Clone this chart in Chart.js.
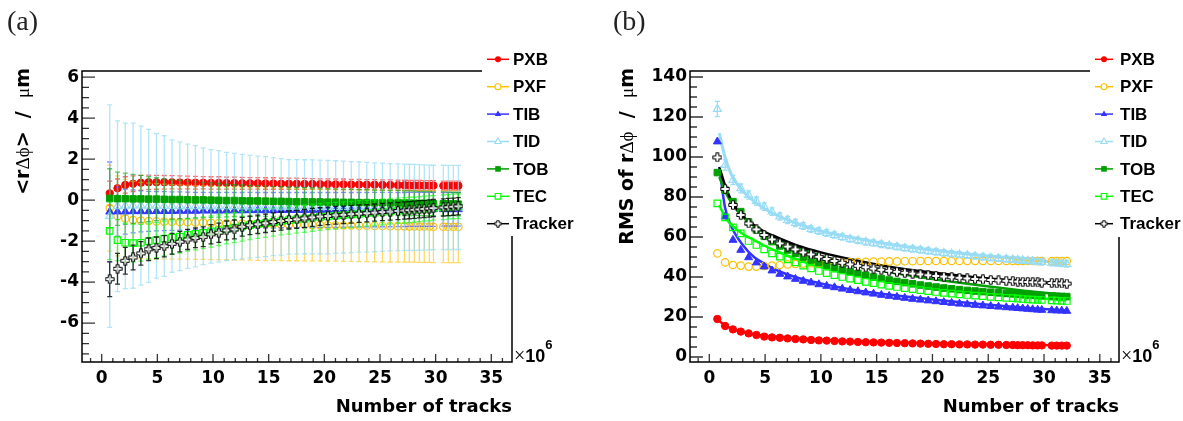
<!DOCTYPE html>
<html>
<head>
<meta charset="utf-8">
<script src="https://cdn.jsdelivr.net/npm/chart.js@4.4.0/dist/chart.umd.min.js"></script>
<style>
  html, body { margin: 0; padding: 0; background: #fff; }
  #wrap { position: relative; width: 1183px; height: 421px; overflow: hidden; }
  canvas { position: absolute; top: 0; }
  #cA { left: 0; }
  #cB { left: 590px; }
</style>
</head>
<body>
<div id="wrap">
  <canvas id="cA" width="590" height="421"></canvas>
  <canvas id="cB" width="593" height="421"></canvas>
</div>
<script>
// number of tracks (x10^6) for each alignment point
const nTracks = [0.72, 1.42, 2.12, 2.82, 3.52, 4.22, 4.92, 5.62, 6.32, 7.02,
  7.72, 8.42, 9.12, 9.82, 10.52, 11.22, 11.92, 12.62, 13.32, 14.02,
  14.72, 15.42, 16.12, 16.82, 17.52, 18.22, 18.92, 19.62, 20.32, 21.02,
  21.72, 22.42, 23.12, 23.82, 24.52, 25.22, 25.92, 26.62, 27.2, 27.64,
  28.09, 28.54, 28.98, 29.43, 29.8, 30.69, 31.14, 31.59, 32.04];

const names = ["PXB", "PXF", "TIB", "TID", "TOB", "TEC", "Tracker"];
const colors = ["#ff0000", "#ffc000", "#3333ff", "#99dcf5", "#00a000", "#00ff00", "#000000"];
const shapes = ["circle", "ocircle", "triangle", "otriangle", "rect", "orect", "ocross"];

// (a) mean of r*dphi, um
const meanPXB = [0.33, 0.58, 0.74, 0.80, 0.85, 0.87, 0.87, 0.87, 0.87, 0.86,
  0.86, 0.85, 0.85, 0.84, 0.84, 0.83, 0.83, 0.82, 0.82, 0.82,
  0.81, 0.81, 0.80, 0.80, 0.80, 0.79, 0.79, 0.78, 0.78, 0.77,
  0.77, 0.76, 0.76, 0.75, 0.75, 0.74, 0.74, 0.73, 0.73, 0.72,
  0.72, 0.72, 0.71, 0.71, 0.71, 0.70, 0.70, 0.70, 0.70];
const meanPXF = [-0.39, -0.77, -0.90, -0.97, -1.00, -1.02, -1.04, -1.05, -1.06, -1.07,
  -1.08, -1.09, -1.10, -1.11, -1.12, -1.13, -1.14, -1.15, -1.16, -1.17,
  -1.18, -1.18, -1.19, -1.20, -1.20, -1.21, -1.22, -1.22, -1.23, -1.23,
  -1.24, -1.24, -1.25, -1.25, -1.26, -1.26, -1.27, -1.27, -1.28, -1.28,
  -1.28, -1.29, -1.29, -1.29, -1.30, -1.30, -1.30, -1.30, -1.30];
const meanTIB = [-0.57, -0.56, -0.56, -0.55, -0.55, -0.55, -0.54, -0.54, -0.54, -0.53,
  -0.53, -0.53, -0.52, -0.52, -0.52, -0.51, -0.51, -0.51, -0.50, -0.50,
  -0.50, -0.50, -0.49, -0.49, -0.49, -0.49, -0.48, -0.48, -0.48, -0.48,
  -0.47, -0.47, -0.47, -0.47, -0.46, -0.46, -0.46, -0.46, -0.46, -0.45,
  -0.45, -0.45, -0.45, -0.45, -0.45, -0.45, -0.45, -0.45, -0.45];
const meanTID = [-0.78, -0.30, -0.28, -0.27, -0.27, -0.28, -0.28, -0.29, -0.29, -0.30,
  -0.30, -0.30, -0.30, -0.31, -0.31, -0.31, -0.31, -0.32, -0.32, -0.32,
  -0.32, -0.32, -0.33, -0.33, -0.33, -0.33, -0.33, -0.34, -0.34, -0.34,
  -0.34, -0.34, -0.34, -0.35, -0.35, -0.35, -0.35, -0.35, -0.35, -0.35,
  -0.36, -0.36, -0.36, -0.36, -0.36, -0.36, -0.36, -0.36, -0.36];
const meanTOB = [0.08, 0.07, 0.07, 0.06, 0.06, 0.05, 0.05, 0.04, 0.03, 0.03,
  0.02, 0.01, 0.01, 0.00, -0.01, -0.02, -0.02, -0.03, -0.04, -0.04,
  -0.05, -0.06, -0.06, -0.07, -0.08, -0.08, -0.09, -0.09, -0.10, -0.10,
  -0.11, -0.11, -0.12, -0.12, -0.13, -0.13, -0.14, -0.14, -0.15, -0.15,
  -0.16, -0.16, -0.17, -0.17, -0.18, -0.18, -0.19, -0.19, -0.20];
const meanTEC = [-1.50, -1.95, -2.08, -2.10, -2.08, -2.00, -1.95, -1.88, -1.83, -1.78,
  -1.70, -1.65, -1.60, -1.53, -1.47, -1.40, -1.34, -1.28, -1.22, -1.17,
  -1.12, -1.07, -1.02, -0.98, -0.94, -0.90, -0.86, -0.82, -0.79, -0.76,
  -0.73, -0.70, -0.67, -0.64, -0.61, -0.58, -0.55, -0.52, -0.50, -0.48,
  -0.46, -0.44, -0.42, -0.40, -0.38, -0.35, -0.33, -0.31, -0.30];
const meanTrk = [-3.86, -3.35, -2.96, -2.80, -2.60, -2.40, -2.33, -2.25, -2.13, -2.03,
  -1.92, -1.84, -1.79, -1.67, -1.59, -1.48, -1.43, -1.30, -1.23, -1.18,
  -1.13, -1.07, -1.02, -0.97, -0.94, -0.89, -0.84, -0.80, -0.77, -0.74,
  -0.72, -0.69, -0.66, -0.64, -0.61, -0.58, -0.56, -0.53, -0.51, -0.49,
  -0.47, -0.45, -0.43, -0.41, -0.39, -0.36, -0.34, -0.32, -0.30];

// (a) error bars
const errPXB = [0.60, 0.45, 0.40, 0.38, 0.36, 0.35, 0.34, 0.33, 0.32, 0.32,
  0.31, 0.31, 0.30, 0.30, 0.30, 0.29, 0.29, 0.29, 0.28, 0.28,
  0.28, 0.28, 0.27, 0.27, 0.27, 0.27, 0.26, 0.26, 0.26, 0.26,
  0.26, 0.25, 0.25, 0.25, 0.25, 0.25, 0.25, 0.24, 0.24, 0.24,
  0.24, 0.24, 0.24, 0.24, 0.24, 0.23, 0.23, 0.23, 0.23];
const errPXF = [2.10, 1.95, 1.90, 1.88, 1.86, 1.85, 1.84, 1.83, 1.82, 1.81,
  1.80, 1.80, 1.79, 1.79, 1.78, 1.78, 1.78, 1.77, 1.77, 1.77,
  1.77, 1.76, 1.76, 1.76, 1.76, 1.76, 1.75, 1.75, 1.75, 1.75,
  1.75, 1.75, 1.75, 1.75, 1.75, 1.75, 1.75, 1.75, 1.75, 1.75,
  1.75, 1.75, 1.75, 1.75, 1.75, 1.75, 1.75, 1.75, 1.75];
const errTIB = [2.43, 1.20, 1.10, 1.05, 1.00, 0.98, 0.96, 0.95, 0.94, 0.93,
  0.92, 0.91, 0.90, 0.90, 0.89, 0.89, 0.88, 0.88, 0.88, 0.87,
  0.87, 0.87, 0.86, 0.86, 0.86, 0.86, 0.85, 0.85, 0.85, 0.85,
  0.85, 0.84, 0.84, 0.84, 0.84, 0.84, 0.84, 0.83, 0.83, 0.83,
  0.83, 0.83, 0.83, 0.83, 0.83, 0.82, 0.82, 0.82, 0.82];
const errTID = [5.43, 4.17, 4.04, 4.03, 3.88, 3.73, 3.53, 3.43, 3.23, 3.14,
  3.03, 2.96, 2.85, 2.77, 2.72, 2.64, 2.59, 2.55, 2.50, 2.47,
  2.44, 2.39, 2.35, 2.31, 2.31, 2.30, 2.29, 2.29, 2.28, 2.26,
  2.24, 2.22, 2.20, 2.19, 2.17, 2.15, 2.13, 2.12, 2.11, 2.10,
  2.10, 2.09, 2.08, 2.07, 2.06, 2.06, 2.05, 2.05, 2.05];
const errTOB = [1.45, 1.30, 1.25, 1.20, 1.15, 1.10, 1.05, 1.00, 0.97, 0.94,
  0.91, 0.88, 0.86, 0.84, 0.82, 0.80, 0.78, 0.77, 0.76, 0.75,
  0.74, 0.73, 0.72, 0.71, 0.70, 0.69, 0.68, 0.67, 0.66, 0.65,
  0.65, 0.64, 0.63, 0.63, 0.62, 0.62, 0.61, 0.61, 0.60, 0.60,
  0.60, 0.59, 0.59, 0.59, 0.58, 0.58, 0.58, 0.57, 0.57];
const errTEC = [1.40, 1.00, 0.95, 0.92, 0.90, 0.88, 0.86, 0.84, 0.82, 0.80,
  0.79, 0.78, 0.77, 0.76, 0.75, 0.74, 0.73, 0.72, 0.71, 0.70,
  0.70, 0.69, 0.68, 0.68, 0.67, 0.67, 0.66, 0.66, 0.65, 0.65,
  0.64, 0.64, 0.64, 0.63, 0.63, 0.63, 0.62, 0.62, 0.62, 0.62,
  0.61, 0.61, 0.61, 0.61, 0.60, 0.60, 0.60, 0.60, 0.60];
const errTrk = [0.85, 0.75, 0.65, 0.60, 0.57, 0.55, 0.53, 0.52, 0.51, 0.50,
  0.49, 0.48, 0.48, 0.47, 0.47, 0.46, 0.46, 0.46, 0.45, 0.45,
  0.45, 0.45, 0.44, 0.44, 0.44, 0.44, 0.44, 0.43, 0.43, 0.43,
  0.43, 0.43, 0.43, 0.42, 0.42, 0.42, 0.42, 0.42, 0.42, 0.42,
  0.42, 0.42, 0.42, 0.42, 0.42, 0.42, 0.42, 0.42, 0.42];

// (b) RMS of r*dphi, um
const rmsPXB = [19.0, 15.5, 13.8, 12.7, 11.8, 11.0, 10.2, 9.8, 9.6, 9.3,
  9.0, 8.8, 8.5, 8.3, 8.2, 8.0, 7.8, 7.7, 7.5, 7.4,
  7.3, 7.2, 7.1, 7.0, 6.9, 6.8, 6.7, 6.6, 6.5, 6.4,
  6.4, 6.3, 6.3, 6.2, 6.2, 6.1, 6.1, 6.0, 6.0, 5.9,
  5.9, 5.9, 5.8, 5.8, 5.8, 5.7, 5.7, 5.7, 5.7];
const rmsPXF = [51.8, 47.3, 46.0, 45.7, 45.2, 45.2, 45.5, 45.7, 46.0, 46.3,
  46.5, 46.7, 46.9, 47.0, 47.1, 47.2, 47.3, 47.4, 47.5, 47.6,
  47.7, 47.7, 47.8, 47.8, 47.9, 47.9, 48.0, 48.0, 48.0, 48.0,
  48.0, 48.0, 48.0, 48.0, 48.0, 48.0, 48.0, 48.0, 48.0, 48.0,
  48.0, 48.0, 48.0, 48.0, 48.0, 48.0, 48.0, 48.0, 48.0];
const rmsTIB = [107.7, 70.2, 58.5, 53.5, 49.8, 47.2, 45.2, 43.2, 41.5, 40.2,
  39.0, 38.0, 37.2, 36.3, 35.5, 34.8, 34.1, 33.4, 32.8, 32.2,
  31.6, 31.0, 30.5, 30.0, 29.5, 29.0, 28.6, 28.2, 27.8, 27.4,
  27.0, 26.6, 26.3, 26.0, 25.7, 25.4, 25.1, 24.8, 24.6, 24.4,
  24.2, 24.0, 23.8, 23.6, 23.5, 23.3, 23.2, 23.1, 23.0];
const rmsTID = [124.0, 96.0, 88.5, 84.3, 81.0, 78.0, 75.2, 72.7, 70.2, 68.5,
  67.0, 65.5, 64.0, 63.0, 62.0, 61.0, 60.0, 59.0, 58.3, 57.6,
  57.0, 56.3, 55.7, 55.1, 54.5, 54.0, 53.5, 53.0, 52.5, 52.0,
  51.6, 51.2, 50.8, 50.4, 50.0, 49.6, 49.3, 49.0, 48.7, 48.5,
  48.3, 48.1, 47.9, 47.7, 47.5, 47.1, 46.9, 46.7, 46.5];
const rmsTOB = [92.2, 83.5, 77.7, 72.7, 67.5, 63.5, 60.3, 57.7, 55.5, 53.5,
  51.8, 50.0, 48.5, 47.2, 46.0, 44.9, 43.8, 42.8, 41.8, 40.9,
  40.0, 39.2, 38.5, 37.8, 37.2, 36.6, 36.0, 35.5, 35.0, 34.5,
  34.1, 33.7, 33.3, 33.0, 32.7, 32.4, 32.1, 31.8, 31.6, 31.4,
  31.2, 31.0, 30.9, 30.8, 30.7, 30.5, 30.4, 30.3, 30.2];
const rmsTEC = [76.8, 69.8, 64.8, 61.8, 58.0, 56.0, 53.8, 51.8, 50.2, 48.8,
  47.3, 45.7, 44.3, 43.0, 41.9, 40.9, 40.0, 39.2, 38.4, 37.6,
  36.9, 36.2, 35.6, 35.0, 34.4, 33.9, 33.4, 32.9, 32.5, 32.1,
  31.7, 31.3, 31.0, 30.7, 30.4, 30.1, 29.8, 29.6, 29.4, 29.2,
  29.0, 28.8, 28.7, 28.6, 28.5, 28.3, 28.2, 28.1, 28.0];
const rmsTrk = [99.8, 84.0, 76.0, 71.0, 66.8, 63.8, 61.0, 58.8, 56.8, 55.2,
  53.8, 52.3, 51.3, 50.1, 49.0, 48.0, 47.1, 46.3, 45.6, 44.9,
  44.2, 43.6, 43.1, 42.6, 42.1, 41.7, 41.3, 40.9, 40.5, 40.2,
  39.9, 39.6, 39.3, 39.0, 38.8, 38.5, 38.3, 38.1, 37.9, 37.7,
  37.6, 37.5, 37.4, 37.3, 37.2, 37.0, 36.9, 36.8, 36.7];
const errTIDrms = [3.8, 2.6, 2.3, 2.2, 2.1, 2.0, 1.9, 1.9, 1.8, 1.8,
  1.8, 1.7, 1.7, 1.7, 1.7, 1.6, 1.6, 1.6, 1.6, 1.6,
  1.6, 1.6, 1.5, 1.5, 1.5, 1.5, 1.5, 1.5, 1.5, 1.5,
  1.5, 1.5, 1.5, 1.5, 1.5, 1.5, 1.5, 1.5, 1.5, 1.5,
  1.5, 1.5, 1.5, 1.5, 1.5, 1.5, 1.5, 1.5, 1.5];

// (b) fitted curves
const fitX = [0.9, 1.4, 2, 3, 4, 5, 6, 8, 10, 13, 16, 20, 24, 28, 32];
const fitPXB = [18.0, 15.8, 14.2, 12.5, 11.4, 10.6, 10.0, 9.2, 8.6, 7.9, 7.4, 6.9, 6.5, 6.1, 5.8];
const fitTIB = [95, 75, 65, 56, 50, 46.5, 43.5, 39.5, 36.8, 33.5, 31.2, 28.8, 26.6, 24.8, 23.3];
const fitTID = [112, 100, 91, 83, 78, 74, 71, 66.5, 63, 59.5, 56.5, 53.5, 51, 49, 46.8];
const fitTOB = [90, 83, 77, 70, 65.5, 62, 59, 54.5, 50.5, 46, 42.5, 39, 36, 33.3, 31];
const fitTEC = [76, 70, 66, 61.5, 58.5, 55.5, 53, 48.5, 45, 40.8, 37.5, 34.5, 32, 30, 28.3];
const fitTrk = [95, 86, 78, 70.5, 66, 62.5, 60, 55.5, 52.3, 48.5, 45.3, 42.2, 39.8, 38, 36.6];

const meansA = [meanPXB, meanPXF, meanTIB, meanTID, meanTOB, meanTEC, meanTrk];
const errsA = [errPXB, errPXF, errTIB, errTID, errTOB, errTEC, errTrk];
const rmsB = [rmsPXB, rmsPXF, rmsTIB, rmsTID, rmsTOB, rmsTEC, rmsTrk];
const errsB = [null, null, null, errTIDrms, null, null, null];
const fitsB = [fitPXB, null, fitTIB, fitTID, fitTOB, fitTEC, fitTrk];

const SANS = '"DejaVu Sans", sans-serif';
const LEG = '"Liberation Sans", Arial, sans-serif';
const SERIF = '"Liberation Serif", "DejaVu Serif", serif';

// open cross marker (ROOT style 28)
function crossImage(size, fill, arm) {
  const c = document.createElement("canvas");
  c.width = c.height = size;
  const g = c.getContext("2d");
  const m = size / 2, L = size / 2 - 0.8, a = arm;
  const pts = [[-a,-L],[a,-L],[a,-a],[L,-a],[L,a],[a,a],[a,L],[-a,L],[-a,a],[-L,a],[-L,-a],[-a,-a]];
  g.beginPath();
  pts.forEach(([px, py], i) => i ? g.lineTo(m + px, m + py) : g.moveTo(m + px, m + py));
  g.closePath();
  g.fillStyle = fill; g.fill();
  g.lineWidth = 1; g.strokeStyle = "#000"; g.stroke();
  return c;
}
const crossA = crossImage(10, "rgba(255,255,255,0.7)", 1.5);
const crossB = crossImage(10, "#fff", 1.5);
const crossLeg = crossImage(8, "#fff", 1.2);

function markerOpts(shape, color, cross) {
  const open = shape[0] === "o";
  const base = open ? shape.slice(1) : shape;
  let style = base, r = 3.7;
  if (base === "triangle") r = 4.6;
  if (base === "rect") r = 4.6;
  if (base === "cross") { style = cross; r = 5; }
  return {
    pointStyle: style, pointRadius: r,
    pointBackgroundColor: open ? "rgba(0,0,0,0)" : color,
    pointBorderColor: color, pointBorderWidth: open ? 1.2 : 1
  };
}

function drawLegendMarker(ctx, shape, color, x, y) {
  const open = shape[0] === "o";
  const base = open ? shape.slice(1) : shape;
  if (base === "cross") { ctx.drawImage(crossLeg, x - 4, y - 4); return; }
  ctx.save();
  ctx.fillStyle = color; ctx.strokeStyle = color; ctx.lineWidth = 1.1;
  ctx.beginPath();
  if (base === "circle") ctx.arc(x, y, 3, 0, Math.PI * 2);
  if (base === "triangle") { ctx.moveTo(x, y - 3.6); ctx.lineTo(x + 3.2, y + 2); ctx.lineTo(x - 3.2, y + 2); ctx.closePath(); }
  if (base === "rect") ctx.rect(x - 2.8, y - 2.8, 5.6, 5.6);
  if (open) { ctx.fillStyle = "#fff"; ctx.fill(); ctx.stroke(); } else ctx.fill();
  ctx.restore();
}

function richText(ctx, parts, x, y, rot, alignRight) {
  ctx.save();
  ctx.translate(x, y);
  if (rot) ctx.rotate(rot);
  ctx.textBaseline = "alphabetic";
  ctx.textAlign = "left";
  let w = 0;
  parts.forEach(p => { ctx.font = p.f; w += ctx.measureText(p.t).width; });
  let cx = alignRight ? -w : 0;
  parts.forEach(p => {
    ctx.font = p.f;
    ctx.fillText(p.t, cx, p.dy || 0);
    cx += ctx.measureText(p.t).width;
  });
  ctx.restore();
}

// ROOT-like frame, inward ticks, titles and legend
function makeDeco(cfg) {
  return {
    id: "rootDeco",
    beforeDatasetDraw(chart, args) {
      const ds = chart.data.datasets[args.index];
      if (!ds.yErr) return;
      const ctx = chart.ctx, ys = chart.scales.y;
      ctx.save();
      ctx.strokeStyle = ds.errColor;
      ctx.lineWidth = 1.3;
      args.meta.data.forEach((pt, i) => {
        const v = ds.data[i].y, e = ds.yErr[i];
        const y1 = ys.getPixelForValue(v + e), y2 = ys.getPixelForValue(v - e);
        ctx.beginPath();
        ctx.moveTo(pt.x, y1); ctx.lineTo(pt.x, y2);
        ctx.moveTo(pt.x - 2.5, y1); ctx.lineTo(pt.x + 2.5, y1);
        ctx.moveTo(pt.x - 2.5, y2); ctx.lineTo(pt.x + 2.5, y2);
        ctx.stroke();
      });
      ctx.restore();
    },
    afterDraw(chart) {
      const ctx = chart.ctx, a = chart.chartArea;
      const xs = chart.scales.x, ys = chart.scales.y;
      ctx.save();
      // ticks
      ctx.strokeStyle = "#333";
      ctx.lineWidth = 1.3;
      ctx.beginPath();
      for (let k = Math.ceil(xs.min); k <= Math.floor(xs.max); k++) {
        const px = xs.getPixelForValue(k);
        const len = k % 5 === 0 ? 8 : 4;
        ctx.moveTo(px, a.bottom); ctx.lineTo(px, a.bottom - len);
      }
      const nMin = Math.round(cfg.yMajor / cfg.yMinor);
      for (let k = Math.ceil(ys.min / cfg.yMinor); k <= Math.floor(ys.max / cfg.yMinor); k++) {
        const py = ys.getPixelForValue(k * cfg.yMinor);
        const len = k % nMin === 0 ? 13 : 7;
        ctx.moveTo(a.left, py); ctx.lineTo(a.left + len, py);
      }
      ctx.stroke();
      // frame (top and right partly hidden behind the legend)
      ctx.strokeStyle = "#000";
      ctx.lineWidth = 1.5;
      ctx.beginPath();
      ctx.moveTo(cfg.topEnd, a.top); ctx.lineTo(a.left, a.top);
      ctx.lineTo(a.left, a.bottom); ctx.lineTo(a.right, a.bottom);
      ctx.lineTo(a.right, cfg.rightStart);
      ctx.stroke();
      ctx.fillStyle = "#000";
      // x title
      ctx.font = "bold 18px " + SANS;
      ctx.textAlign = "right";
      ctx.textBaseline = "alphabetic";
      ctx.fillText("Number of tracks", a.right, 412);
      // x10^6
      richText(ctx, [
        { t: "\u00d7", f: "20px " + SERIF },
        { t: "10", f: "bold 18px " + LEG },
        { t: "6", f: "bold 13px " + LEG, dy: -13 }
      ], a.right + 2, 362, 0, false);
      // y title
      richText(ctx, cfg.yTitle, cfg.yTitleX, 68, -Math.PI / 2, true);
      // panel label
      ctx.font = "28px " + SERIF;
      ctx.textAlign = "left";
      ctx.fillStyle = "#222";
      ctx.fillText(cfg.label, cfg.labelX, 30);
      // legend
      names.forEach((n, i) => {
        const y = 59.3 + i * 27.4;
        ctx.strokeStyle = colors[i];
        ctx.lineWidth = 1.5;
        ctx.beginPath();
        ctx.moveTo(cfg.legX0, y); ctx.lineTo(cfg.legX1, y);
        ctx.stroke();
        drawLegendMarker(ctx, shapes[i], colors[i], (cfg.legX0 + cfg.legX1) / 2, y);
        ctx.fillStyle = "#000";
        ctx.font = "bold 17px " + LEG;
        ctx.textBaseline = "middle";
        ctx.fillText(n, cfg.legText, y + 1);
      });
      ctx.restore();
    }
  };
}

function axisOpts(min, max, step, size, pad) {
  return {
    type: "linear", min: min, max: max,
    grid: { display: false, drawTicks: false },
    border: { display: false },
    ticks: {
      stepSize: step, includeBounds: false, autoSkip: false, maxRotation: 0,
      color: "#000", padding: pad,
      font: { family: SANS, weight: "bold", size: 17 },
      callback: v => String(v)
    },
    afterFit: size
  };
}

function alpha(hex, a) {
  const n = parseInt(hex.slice(1), 16);
  return `rgba(${n >> 16},${(n >> 8) & 255},${n & 255},${a})`;
}

// panel (a)
const dsA = names.map((n, i) => Object.assign({
  label: n,
  data: nTracks.map((x, j) => ({ x: x, y: meansA[i][j] })),
  yErr: errsA[i],
  errColor: alpha(colors[i], i === 6 ? 0.8 : (i === 3 ? 0.75 : 0.6)),
  order: 10 - i
}, markerOpts(shapes[i], colors[i], crossA)));

new Chart(document.getElementById("cA"), {
  type: "scatter",
  data: { datasets: dsA },
  options: {
    responsive: false, animation: false, devicePixelRatio: 1,
    layout: { padding: { left: 0, top: 71, right: 78, bottom: 0 } },
    plugins: { legend: { display: false }, tooltip: { enabled: false } },
    scales: {
      x: axisOpts(-1.77, 36.86, 5, s => { s.height = 59; }, 6),
      y: axisOpts(-7.9, 6.3, 2, s => { s.width = 82; }, 3)
    }
  },
  plugins: [makeDeco({
    label: "(a)", labelX: 7, topEnd: 482, rightStart: 236,
    yMinor: 0.5, yMajor: 2, yTitleX: 29,
    yTitle: [
      { t: "<r", f: "bold 19px " + SANS },
      { t: "\u0394\u03d5", f: "19px " + SERIF },
      { t: ">  /  ", f: "bold 19px " + SANS },
      { t: "\u03bc", f: "19px " + SERIF },
      { t: "m", f: "bold 19px " + SANS }
    ],
    legX0: 487, legX1: 509, legText: 513
  })]
});

// panel (b)
const dsB = [];
names.forEach((n, i) => {
  dsB.push(Object.assign({
    label: n,
    data: nTracks.map((x, j) => ({ x: x, y: rmsB[i][j] })),
    yErr: errsB[i],
    errColor: colors[i],
    order: 10 - i
  }, markerOpts(shapes[i], colors[i], crossB)));
  if (fitsB[i]) {
    dsB.push({
      label: n + " fit",
      data: fitX.map((x, j) => ({ x: x, y: fitsB[i][j] })),
      showLine: true, pointRadius: 0,
      borderColor: colors[i], borderWidth: i === 3 ? 3 : 2.5,
      cubicInterpolationMode: "monotone",
      order: 30 - i
    });
  }
});

new Chart(document.getElementById("cB"), {
  type: "scatter",
  data: { datasets: dsB },
  options: {
    responsive: false, animation: false, devicePixelRatio: 1,
    layout: { padding: { left: 0, top: 71, right: 64, bottom: 0 } },
    plugins: { legend: { display: false }, tooltip: { enabled: false } },
    scales: {
      x: axisOpts(-1.73, 36.72, 5, s => { s.height = 59; }, 6),
      y: axisOpts(-2.5, 143, 20, s => { s.width = 100; }, 3)
    }
  },
  plugins: [makeDeco({
    label: "(b)", labelX: 23, topEnd: 500, rightStart: 237,
    yMinor: 5, yMajor: 20, yTitleX: 43,
    yTitle: [
      { t: "RMS of r", f: "bold 19px " + SANS },
      { t: "\u0394\u03d5", f: "19px " + SERIF },
      { t: "  /  ", f: "bold 19px " + SANS },
      { t: "\u03bc", f: "19px " + SERIF },
      { t: "m", f: "bold 19px " + SANS }
    ],
    legX0: 505, legX1: 523, legText: 530
  })]
});
</script>
</body>
</html>
